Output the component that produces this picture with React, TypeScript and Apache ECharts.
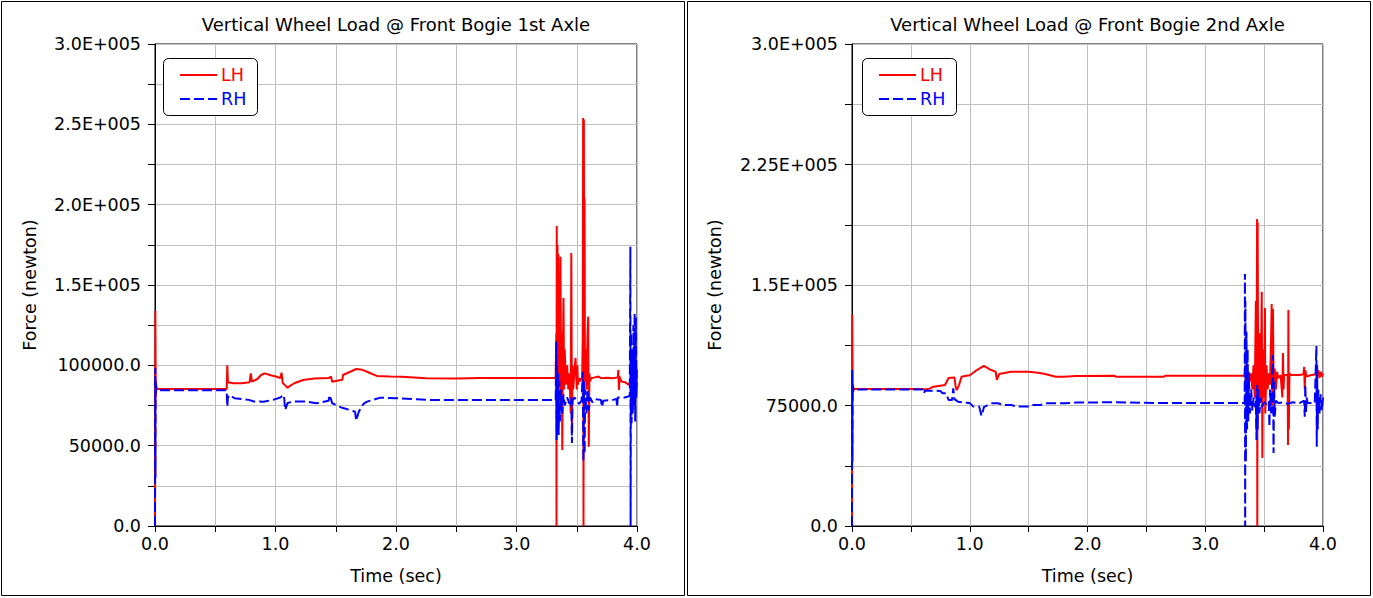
import React, { useEffect, useRef } from "react";
import * as echarts from "echarts";

// ---- Data: [time (sec), force (newton)] ----
const axle1LH: [number, number][] = [
  [0.0, 0], [0.003, 133800], [0.006, 80000], [0.01, 88000], [0.015, 85300], [0.3, 85300], [0.595, 85300],
  [0.6, 100000], [0.605, 89500], [0.65, 88800], [0.72, 88800], [0.785, 89500], [0.795, 95000], [0.805, 89800],
  [0.85, 91500], [0.88, 94000], [0.91, 95000], [0.96, 93800], [1.01, 92900], [1.04, 92000], [1.05, 95400],
  [1.06, 89000], [1.08, 87500], [1.1, 86000], [1.12, 87200], [1.16, 89000], [1.23, 90900], [1.32, 91800],
  [1.44, 92100], [1.46, 93000], [1.47, 89800], [1.52, 90500], [1.555, 91000], [1.56, 94000], [1.62, 96000],
  [1.67, 97700], [1.72, 97200], [1.76, 96000], [1.84, 93400], [1.95, 93000], [2.05, 92900], [2.25, 91900],
  [2.5, 91800], [2.7, 92100], [3.0, 92100], [3.325, 92100],
  [3.33, 120000], [3.332, 0], [3.334, 186700], [3.337, 60000], [3.34, 175000], [3.343, 80000], [3.347, 169300],
  [3.35, 70000], [3.355, 150000], [3.36, 90000], [3.365, 167600], [3.37, 75000], [3.375, 120000], [3.38, 47300],
  [3.385, 110000], [3.39, 141900], [3.395, 85000], [3.4, 110000], [3.41, 88000], [3.42, 100000], [3.43, 85000],
  [3.44, 95000], [3.45, 70000], [3.455, 169900], [3.46, 57900], [3.465, 100000], [3.47, 85000], [3.48, 95000],
  [3.49, 104600], [3.5, 85000], [3.505, 100000], [3.51, 88000], [3.52, 92000], [3.53, 90000], [3.545, 93000],
  [3.55, 120000], [3.553, 253900], [3.556, 0], [3.559, 253000], [3.562, 140000], [3.565, 204000], [3.568, 90000],
  [3.572, 110000], [3.58, 85000], [3.59, 120000], [3.595, 130300], [3.6, 49400], [3.605, 95000], [3.61, 90000],
  [3.62, 92000], [3.65, 92500], [3.68, 93000], [3.7, 92000], [3.75, 92300], [3.8, 92000], [3.84, 92500],
  [3.845, 97100], [3.85, 84600], [3.855, 93000], [3.87, 90000], [3.9, 89500], [3.93, 88000], [3.95, 90000],
  [3.96, 95000], [3.97, 82000], [3.98, 96000], [3.99, 85000], [4.0, 90000],
];

const axle1RH: [number, number][] = [
  [0.0, 0], [0.002, 98300], [0.004, 30000], [0.006, 90000], [0.01, 84000], [0.015, 84500], [0.595, 84500],
  [0.6, 74300], [0.605, 80000], [0.62, 81500], [0.66, 79500], [0.72, 79000], [0.78, 78500], [0.82, 77500],
  [0.9, 77400], [0.98, 78500], [1.04, 80000], [1.07, 81500], [1.08, 72200], [1.1, 76500], [1.15, 77500],
  [1.25, 77500], [1.34, 76400], [1.44, 78000], [1.45, 81500], [1.47, 76500], [1.52, 74500], [1.56, 73400],
  [1.62, 72200], [1.66, 71100], [1.67, 65500], [1.69, 71000], [1.73, 76000], [1.76, 77400], [1.87, 79900],
  [2.0, 79500], [2.28, 78400], [2.8, 78400], [3.325, 78400],
  [3.33, 114700], [3.333, 53500], [3.336, 100000], [3.34, 60000], [3.345, 95000], [3.35, 56600], [3.355, 90000],
  [3.36, 65000], [3.37, 85000], [3.38, 70000], [3.39, 82000], [3.4, 75000], [3.42, 80000], [3.44, 76000],
  [3.455, 80000], [3.46, 51600], [3.465, 78000], [3.48, 80000], [3.5, 78000], [3.52, 76000], [3.54, 78000],
  [3.55, 96000], [3.555, 40000], [3.56, 90000], [3.565, 45000], [3.57, 85000], [3.58, 70000], [3.59, 85000],
  [3.6, 72000], [3.61, 80000], [3.63, 77000], [3.65, 79000], [3.7, 78500], [3.71, 74000], [3.72, 78000],
  [3.8, 78500], [3.83, 79000], [3.835, 74000], [3.84, 80000], [3.9, 80000], [3.94, 81000], [3.945, 173800],
  [3.947, 0], [3.95, 120000], [3.955, 64000], [3.96, 110000], [3.965, 70000], [3.97, 125000], [3.975, 75000],
  [3.98, 132500], [3.985, 65000], [3.99, 130000], [3.995, 80000], [4.0, 100000],
];

const axle2LH: [number, number][] = [
  [0.0, 0], [0.002, 131300], [0.006, 84000], [0.012, 86000], [0.02, 85300], [0.6, 85300], [0.62, 85000],
  [0.66, 85500], [0.69, 86700], [0.79, 87800], [0.82, 92100], [0.87, 92500], [0.88, 86700], [0.89, 84600],
  [0.91, 88000], [0.93, 92900], [0.96, 93400], [1.0, 93800], [1.05, 96500], [1.12, 99600], [1.17, 97500],
  [1.22, 96000], [1.23, 90900], [1.25, 94600], [1.35, 96000], [1.5, 96000], [1.58, 95400], [1.64, 94600],
  [1.73, 92900], [1.8, 92900], [1.9, 93400], [2.23, 93500], [2.24, 92900], [2.65, 92900], [2.66, 93500],
  [3.335, 93500],
  [3.34, 100000], [3.345, 85000], [3.35, 93000], [3.36, 88000], [3.37, 96000], [3.38, 90000], [3.39, 95000],
  [3.4, 85000], [3.41, 100000], [3.42, 80000], [3.43, 140000], [3.435, 60000], [3.44, 191000], [3.442, 0],
  [3.445, 189000], [3.45, 70000], [3.46, 120000], [3.47, 80000], [3.48, 145800], [3.485, 42300], [3.49, 110000],
  [3.5, 80000], [3.507, 135700], [3.51, 70000], [3.52, 100000], [3.53, 85000], [3.54, 95000], [3.55, 88000],
  [3.56, 120000], [3.564, 138200], [3.57, 75000], [3.575, 135000], [3.58, 90000], [3.59, 98000], [3.6, 85000],
  [3.61, 96000], [3.62, 92000], [3.64, 94000], [3.655, 80000], [3.66, 107700], [3.665, 85000], [3.67, 94000],
  [3.7, 94000], [3.703, 50400], [3.706, 134400], [3.71, 60000], [3.715, 95000], [3.73, 94000], [3.8, 94000],
  [3.835, 94500], [3.84, 99000], [3.845, 85000], [3.85, 97000], [3.86, 93000], [3.9, 94000], [3.95, 94500],
  [3.96, 97000], [3.97, 92000], [3.98, 96000], [3.99, 93000], [4.0, 95000],
];

const axle2RH: [number, number][] = [
  [0.0, 0], [0.002, 97100], [0.004, 40000], [0.007, 88000], [0.012, 84000], [0.02, 85000], [0.6, 85000],
  [0.61, 82600], [0.62, 84200], [0.7, 84200], [0.75, 84000], [0.77, 82600], [0.8, 82600], [0.82, 78400],
  [0.85, 78400], [0.86, 85700], [0.87, 79000], [0.9, 77400], [0.95, 76800], [1.0, 76500], [1.03, 74300],
  [1.08, 74300], [1.1, 68500], [1.115, 72500], [1.12, 74000], [1.18, 76400], [1.24, 76400], [1.28, 75300],
  [1.35, 75300], [1.4, 74300], [1.5, 74300], [1.53, 75300], [1.6, 75300], [1.64, 76400], [1.8, 76400],
  [1.9, 76800], [2.2, 77000], [2.6, 76500], [3.335, 76500],
  [3.337, 156800], [3.339, 0], [3.341, 140000], [3.345, 40000], [3.35, 120900], [3.355, 60000], [3.36, 110000],
  [3.365, 65000], [3.37, 95000], [3.38, 70000], [3.39, 85000], [3.4, 72000], [3.41, 80000], [3.42, 74000],
  [3.43, 78000], [3.435, 53500], [3.44, 87800], [3.445, 60000], [3.45, 85000], [3.46, 70000], [3.47, 80000],
  [3.48, 74000], [3.5, 77000], [3.52, 76000], [3.54, 78000], [3.545, 61800], [3.55, 85000], [3.56, 70000],
  [3.575, 106400], [3.58, 45400], [3.585, 90000], [3.59, 68000], [3.6, 78000], [3.62, 76500], [3.66, 77000],
  [3.7, 76000], [3.74, 77000], [3.8, 76500], [3.84, 78000], [3.845, 68000], [3.85, 88000], [3.855, 70000],
  [3.86, 80000], [3.87, 76500], [3.93, 76500], [3.944, 112000], [3.947, 49400], [3.95, 100000], [3.955, 60000],
  [3.96, 85000], [3.97, 70000], [3.98, 82000], [3.99, 72000], [4.0, 80000],
];

const titles = [
  "Vertical Wheel Load @ Front Bogie 1st Axle",
  "Vertical Wheel Load @ Front Bogie 2nd Axle",
];
const xAxisName = "Time (sec)";
const yAxisName = "Force (newton)";
const seriesNames = ["LH", "RH"];
const yTickSteps = [25000, 37500];
const yLabelSteps = [50000, 75000];

const FONT = "DejaVu Sans";
const RED = "#ff0000";
const BLUE = "#0000ff";
const DASH = [10, 4];

function fmtForce(v: number): string {
  if (v >= 150000) {
    let s = String(v / 1e5);
    if (s.indexOf(".") < 0) s += ".0";
    return s + "E+005";
  }
  return v.toFixed(1);
}

export default function App() {
  const ref = useRef<HTMLDivElement>(null);
  useEffect(() => {
    if (!ref.current) return;
    const chart = echarts.init(ref.current, undefined, { renderer: "svg" });
    const grids = [
      { left: 155, top: 44, width: 482, height: 482 },
      { left: 852, top: 44, width: 471, height: 482 },
    ];
    const centers = grids.map((g) => g.left + g.width / 2);
    const yNameX = [30, 715];
    const legendLeft = [163, 862];

    const textStyle = { fontFamily: FONT, fontSize: 17.5, color: "#000" };
    const font = `17.5px "${FONT}"`;

    const legendGraphics = legendLeft.flatMap((lx) => [
      {
        type: "rect",
        shape: { x: lx + 0.5, y: 58.5, width: 94, height: 57, r: 5 },
        style: { fill: "#fff", stroke: "#000", lineWidth: 1 },
        z: 50,
      },
      {
        type: "line",
        shape: { x1: lx + 17, y1: 75, x2: lx + 54, y2: 75 },
        style: { stroke: RED, lineWidth: 2 },
        z: 51,
      },
      {
        type: "text",
        x: lx + 58,
        y: 75,
        style: { text: seriesNames[0], textAlign: "left", textVerticalAlign: "middle", font, fill: RED },
        z: 51,
      },
      {
        type: "line",
        shape: { x1: lx + 17, y1: 99, x2: lx + 54, y2: 99 },
        style: { stroke: BLUE, lineWidth: 2, lineDash: DASH },
        z: 51,
      },
      {
        type: "text",
        x: lx + 58,
        y: 99,
        style: { text: seriesNames[1], textAlign: "left", textVerticalAlign: "middle", font, fill: BLUE },
        z: 51,
      },
    ]);

    const option: any = {
      animation: false,
      backgroundColor: "#fff",
      grid: grids.map((g) => ({ ...g, show: true, borderColor: "#000", borderWidth: 1, backgroundColor: "transparent" })),
      xAxis: grids.map((_, i) => ({
        type: "value",
        gridIndex: i,
        min: 0,
        max: 4,
        interval: 0.5,
        axisLine: { show: true, lineStyle: { color: "#000", width: 1 } },
        axisTick: { show: true, length: 6, lineStyle: { color: "#000" } },
        axisLabel: {
          ...textStyle,
          margin: 9,
          showMinLabel: true,
          showMaxLabel: true,
          formatter: (v: number) => (Math.abs(v - Math.round(v)) < 1e-9 ? v.toFixed(1) : ""),
        },
        splitLine: { show: true, lineStyle: { color: "#c0c0c0", width: 1 } },
      })),
      yAxis: grids.map((_, i) => ({
        type: "value",
        gridIndex: i,
        min: 0,
        max: 300000,
        interval: yTickSteps[i],
        axisLine: { show: true, lineStyle: { color: "#000", width: 1 } },
        axisTick: { show: true, length: 7, lineStyle: { color: "#000" } },
        axisLabel: {
          ...textStyle,
          margin: 14,
          showMinLabel: true,
          showMaxLabel: true,
          formatter: (v: number) => (Math.abs(v % yLabelSteps[i]) < 1e-6 ? fmtForce(v) : ""),
        },
        splitLine: { show: true, lineStyle: { color: "#c0c0c0", width: 1 } },
      })),
      series: [
        { data: axle1LH, idx: 0, s: 0 },
        { data: axle1RH, idx: 0, s: 1 },
        { data: axle2LH, idx: 1, s: 0 },
        { data: axle2RH, idx: 1, s: 1 },
      ].map((d) => ({
        type: "line",
        name: seriesNames[d.s],
        xAxisIndex: d.idx,
        yAxisIndex: d.idx,
        data: d.data,
        symbol: "none",
        showSymbol: false,
        clip: true,
        color: d.s === 0 ? RED : BLUE,
        lineStyle: {
          color: d.s === 0 ? RED : BLUE,
          width: 2,
          type: d.s === 0 ? "solid" : DASH,
        },
      })),
      graphic: [
        { type: "rect", shape: { x: 1.5, y: 1.5, width: 683, height: 594 }, style: { fill: "none", stroke: "#000", lineWidth: 1 }, silent: true },
        { type: "rect", shape: { x: 687.5, y: 1.5, width: 683, height: 594 }, style: { fill: "none", stroke: "#000", lineWidth: 1 }, silent: true },
        ...legendGraphics,
        ...grids.flatMap((g, i) => [
          {
            type: "text",
            x: centers[i],
            y: 24,
            style: { text: titles[i], textAlign: "center", textVerticalAlign: "middle", font: `18px "${FONT}"`, fill: "#000" },
          },
          {
            type: "text",
            x: centers[i],
            y: 576,
            style: { text: xAxisName, textAlign: "center", textVerticalAlign: "middle", font, fill: "#000" },
          },
          {
            type: "text",
            x: yNameX[i],
            y: g.top + g.height / 2,
            rotation: Math.PI / 2,
            style: { text: yAxisName, textAlign: "center", textVerticalAlign: "middle", font, fill: "#000" },
          },
        ]),
      ],
    };
    chart.setOption(option);
    return () => chart.dispose();
  }, []);
  return (
    <div
      ref={ref}
      style={{ position: "absolute", left: 0, top: 0, width: 1373, height: 598, background: "#fff" }}
    />
  );
}
